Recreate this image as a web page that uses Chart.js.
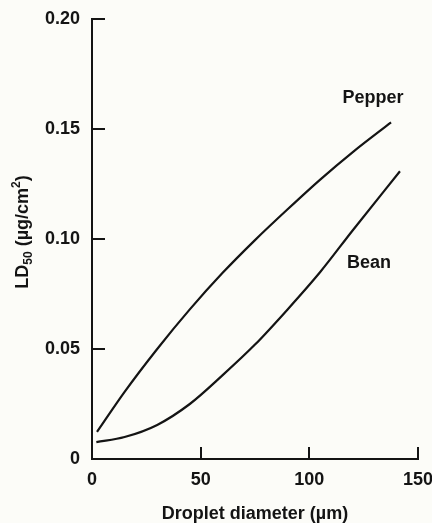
<!DOCTYPE html>
<html>
<head>
<meta charset="utf-8">
<script src="https://cdn.jsdelivr.net/npm/chart.js@4"></script>
<style>
  html, body { margin: 0; padding: 0; background: #fcfcf8; }
  #wrap { width: 432px; height: 523px; }
</style>
</head>
<body>
<div id="wrap"><canvas id="myChart"></canvas></div>
<script>
// Data

const pepperDiameter = [2.3, 15, 30, 45, 60, 75, 90, 105, 120, 137.6];
const pepperLD50 = [0.0123, 0.0305, 0.050, 0.068, 0.0845, 0.0995, 0.1135, 0.127, 0.1395, 0.153];

const beanDiameter = [2, 15, 30, 45, 60, 75, 90, 105, 120, 141.7];
const beanLD50 = [0.0077, 0.010, 0.0155, 0.025, 0.038, 0.052, 0.068, 0.085, 0.104, 0.1308];

const xTicks = [0, 50, 100, 150];
const yTicks = [0, 0.05, 0.1, 0.15, 0.2];

const curveLabels = [
  { text: "Pepper", x: 129.3, y: 0.164 },
  { text: "Bean", x: 127.5, y: 0.0893 },
];

const ink = "#141414";
const fontFamily = "'Liberation Sans', Arial, sans-serif";
const labelFont = { family: fontFamily, size: 18, weight: "bold" };

function toPoints(xs, ys) {
  return xs.map((x, i) => ({ x: x, y: ys[i] }));
}

// Y title with sub- and superscripts: LD50 (µg/cm2)

function drawYTitle(ctx, cx, baseX) {
  const parts = [
    { t: "LD", size: 18, shift: 0 },
    { t: "50", size: 12, shift: 4 },
    { t: " (µg/cm", size: 18, shift: 0 },
    { t: "2", size: 12, shift: -8 },
    { t: ")", size: 18, shift: 0 },
  ];
  let total = 0;
  parts.forEach(p => {
    ctx.font = "bold " + p.size + "px " + fontFamily;
    p.w = ctx.measureText(p.t).width;
    total += p.w;
  });
  ctx.save();
  ctx.translate(baseX, cx);
  ctx.rotate(-Math.PI / 2);
  ctx.textAlign = "left";
  ctx.textBaseline = "alphabetic";
  let pos = -total / 2;
  parts.forEach(p => {
    ctx.font = "bold " + p.size + "px " + fontFamily;
    ctx.fillText(p.t, pos, p.shift);
    pos += p.w;
  });
  ctx.restore();
}

// Inward tick marks, curve names and y title

const decorations = {
  id: "decorations",
  afterDraw(chart) {
    const ctx = chart.ctx;
    const xs = chart.scales.x;
    const ys = chart.scales.y;
    ctx.save();
    ctx.strokeStyle = ink;
    ctx.lineWidth = 2;
    ctx.beginPath();
    yTicks.forEach(v => {
      if (v === 0) return;
      let py = Math.round(ys.getPixelForValue(v));
      ctx.moveTo(xs.left, py);
      ctx.lineTo(xs.left + 13, py);
    });
    xTicks.forEach(v => {
      if (v === 0) return;
      let px = Math.round(xs.getPixelForValue(v));
      ctx.moveTo(px, ys.bottom);
      ctx.lineTo(px, ys.bottom - 12);
    });
    ctx.stroke();

    ctx.fillStyle = ink;
    ctx.font = "bold 18px " + fontFamily;
    ctx.textAlign = "center";
    ctx.textBaseline = "middle";
    curveLabels.forEach(l => {
      ctx.fillText(l.text, xs.getPixelForValue(l.x), ys.getPixelForValue(l.y));
    });

    drawYTitle(ctx, (ys.top + ys.bottom) / 2 - 7, 28);
    ctx.restore();
  },
};

const ctx = document.getElementById("myChart").getContext("2d");
const chart = new Chart(ctx, {
  type: "line",
  data: {
    datasets: [
      {
        label: "Pepper",
        data: toPoints(pepperDiameter, pepperLD50),
        borderColor: ink,
        borderWidth: 2.2,
        pointRadius: 0,
        cubicInterpolationMode: "monotone",
      },
      {
        label: "Bean",
        data: toPoints(beanDiameter, beanLD50),
        borderColor: ink,
        borderWidth: 2.2,
        pointRadius: 0,
        cubicInterpolationMode: "monotone",
      },
    ],
  },
  options: {
    responsive: true,
    maintainAspectRatio: false,
    animation: false,
    layout: { padding: { top: 19, right: 14, bottom: 0, left: 0 } },
    plugins: {
      legend: { display: false },
      tooltip: { enabled: false },
    },
    scales: {
      x: {
        type: "linear",
        min: 0,
        max: 150,
        afterBuildTicks: scale => {
          scale.ticks = xTicks.map(v => ({ value: v }));
        },
        afterFit: scale => {
          scale.height = 64;
          scale.paddingLeft = 0;
          scale.paddingRight = 0;
        },
        grid: { display: true, drawOnChartArea: false, drawTicks: false },
        border: { display: true, color: ink, width: 2 },
        ticks: {
          color: ink,
          padding: 10,
          maxRotation: 0,
          font: labelFont,
        },
        title: {
          display: true,
          text: "Droplet diameter (µm)",
          color: ink,
          padding: { top: 0, bottom: 0 },
          font: { family: fontFamily, size: 18, weight: "bold", lineHeight: 1 },
        },
      },
      y: {
        type: "linear",
        min: 0,
        max: 0.2,
        afterBuildTicks: scale => {
          scale.ticks = yTicks.map(v => ({ value: v }));
        },
        afterFit: scale => {
          scale.width = 92;
          scale.paddingTop = 0;
          scale.paddingBottom = 0;
        },
        grid: { display: true, drawOnChartArea: false, drawTicks: false },
        border: { display: true, color: ink, width: 2 },
        ticks: {
          color: ink,
          padding: 12,
          font: labelFont,
          callback: v => (v === 0 ? "0" : v.toFixed(2)),
        },
      },
    },
  },
  plugins: [decorations],
});
</script>
</body>
</html>
